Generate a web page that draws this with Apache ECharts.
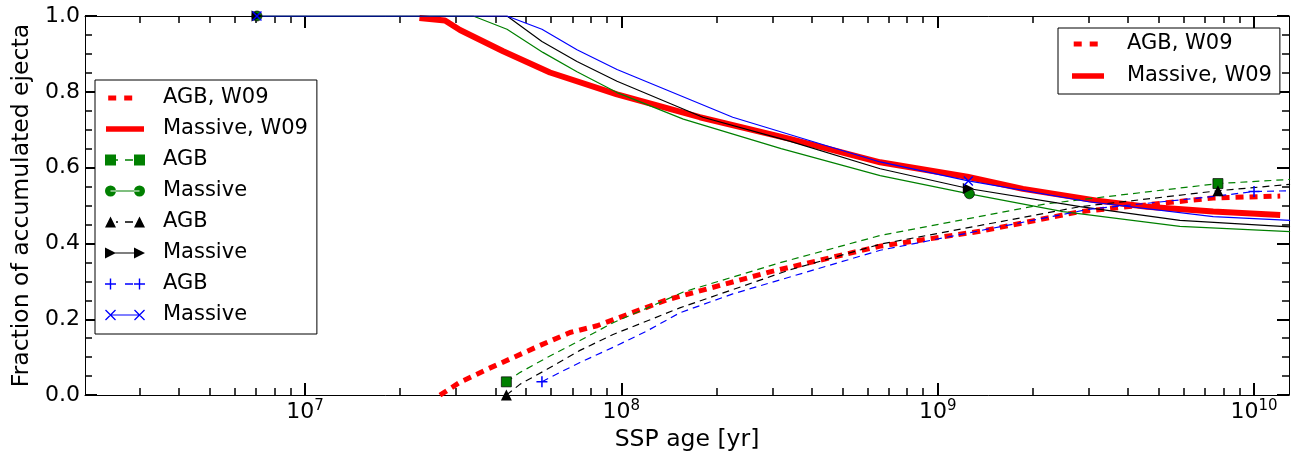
<!DOCTYPE html>
<html><head><meta charset="utf-8">
<script src="https://cdn.jsdelivr.net/npm/echarts@6/dist/echarts.min.js"></script>
<style>html,body{margin:0;padding:0;background:#fff}#c{width:1294px;height:457px}</style>
</head><body><div id="c"></div><script>
// ---------- data ----------
const X_MIN = 2.016e6, X_MAX = 1.29e10;
const xMajorTicks = [1e7, 1e8, 1e9, 1e10];
const xMinorTicks = [3e6,4e6,5e6,6e6,7e6,8e6,9e6, 2e7,3e7,4e7,5e7,6e7,7e7,8e7,9e7,
  2e8,3e8,4e8,5e8,6e8,7e8,8e8,9e8, 2e9,3e9,4e9,5e9,6e9,7e9,8e9,9e9];
const yTicks = [0.0, 0.2, 0.4, 0.6, 0.8, 1.0];

const w09AgbX = [2.67e7, 3.09e7, 3.76e7, 4.55e7, 5.53e7, 6.88e7, 8.38e7, 1.04e8, 1.39e8, 2.95e8, 6.58e8, 1.36e9, 2.82e9, 7.43e9, 1.21e10];
const w09AgbY = [0.0, 0.034, 0.068, 0.099, 0.131, 0.165, 0.183, 0.212, 0.251, 0.325, 0.393, 0.432, 0.484, 0.52, 0.525];
const w09MassX = [2.3e7, 2.77e7, 3.09e7, 4.23e7, 5.95e7, 9.69e7, 1.77e8, 3.41e8, 6.58e8, 1.24e9, 1.86e9, 3.19e9, 4.59e9, 7.43e9, 1.21e10];
const w09MassY = [0.995, 0.988, 0.963, 0.907, 0.851, 0.793, 0.733, 0.676, 0.614, 0.576, 0.544, 0.513, 0.497, 0.484, 0.475];

const greenAgbX = [4.33e7, 4.79e7, 5.82e7, 7.40e7, 9.42e7, 1.21e8, 1.57e8, 3.2e8, 6.58e8, 2.22e9, 7.69e9, 1.3e10];
const greenAgbY = [0.035, 0.060, 0.099, 0.144, 0.191, 0.230, 0.272, 0.350, 0.421, 0.505, 0.558, 0.569];
const greenMassX = [7.05e6, 3.40e7, 4.35e7, 5.65e7, 7.24e7, 9.69e7, 1.57e8, 3.2e8, 6.58e8, 1.26e9, 2.49e9, 5.83e9, 1.3e10];
const greenMassY = [1.0, 1.0, 0.965, 0.904, 0.853, 0.798, 0.728, 0.650, 0.579, 0.531, 0.484, 0.445, 0.431];

const blackAgbX = [4.33e7, 4.79e7, 5.82e7, 7.40e7, 9.42e7, 1.21e8, 1.53e8, 3.4e8, 6.58e8, 2.82e9, 7.69e9, 1.3e10];
const blackAgbY = [0.0, 0.029, 0.068, 0.118, 0.160, 0.196, 0.230, 0.330, 0.398, 0.497, 0.539, 0.556];
const blackMassX = [7.05e6, 4.35e7, 5.61e7, 7.24e7, 9.69e7, 1.81e8, 3.4e8, 6.58e8, 1.25e9, 2.82e9, 5.83e9, 1.3e10];
const blackMassY = [1.0, 1.0, 0.933, 0.880, 0.828, 0.733, 0.670, 0.597, 0.545, 0.497, 0.461, 0.444];

const blueAgbX = [5.61e7, 6.40e7, 7.40e7, 9.42e7, 1.21e8, 1.53e8, 2.25e8, 6.58e8, 3.0e9, 7.43e9, 1.0e10, 1.3e10];
const blueAgbY = [0.035, 0.060, 0.086, 0.126, 0.170, 0.217, 0.267, 0.382, 0.490, 0.524, 0.537, 0.539];
const blueMassX = [7.05e6, 4.35e7, 5.61e7, 7.24e7, 9.69e7, 2.25e8, 6.58e8, 1.25e9, 3.0e9, 7.43e9, 1.3e10];
const blueMassY = [1.0, 1.0, 0.965, 0.911, 0.859, 0.733, 0.615, 0.565, 0.510, 0.471, 0.461];

// marker positions (indices into the data above)
const greenAgbMarks = [0, 10], greenMassMarks = [0, 9];
const blackAgbMarks = [0, 10], blackMassMarks = [0, 8];
const blueAgbMarks = [0, 10], blueMassMarks = [0, 7];

// ---------- shapes ----------
const FONT = 'DejaVu Sans';
function rect(x0,y0,x1,y1){return `M${x0} ${y0}L${x1} ${y0}L${x1} ${y1}L${x0} ${y1}Z`;}
function circ(cx,cy,r){return `M${cx-r} ${cy}A${r} ${r} 0 1 0 ${cx+r} ${cy}A${r} ${r} 0 1 0 ${cx-r} ${cy}Z`;}
function triUp(cx,cy,s){return `M${cx} ${cy-s/2}L${cx+s/2} ${cy+s/2}L${cx-s/2} ${cy+s/2}Z`;}
function triRight(cx,cy,s){return `M${cx-s/2} ${cy-s/2}L${cx+s/2} ${cy}L${cx-s/2} ${cy+s/2}Z`;}
function plus(cx,cy,s,t){return rect(cx-s/2,cy-t/2,cx+s/2,cy+t/2)+rect(cx-t/2,cy-s/2,cx+t/2,cy+s/2);}
function cross(cx,cy,s,t){
  const x0=cx-s/2,x1=cx+s/2,y0=cy-s/2,y1=cy+s/2,d=t/(2*Math.SQRT2);
  return `M${x0+d} ${y0-d}L${x1+d} ${y1-d}L${x1-d} ${y1+d}L${x0-d} ${y0+d}Z`+
         `M${x0-d} ${y1-d}L${x1-d} ${y0-d}L${x1+d} ${y0+d}L${x0+d} ${y1+d}Z`;
}
function anchor(W,H){return `M0 0L0.01 0L0.01 0.01Z M${W-0.01} ${H-0.01}L${W} ${H-0.01}L${W} ${H}Z`;}
const SYM = {
  plus: 'path://' + plus(5,5,10,1.4),
  cross: 'path://' + cross(5,5,9,1.4),
  rtri: 'path://' + triRight(5,5,10)
};
// legend handle icons (W x H box, handle drawn from 0..hw)
function icon(kind, W, H, hw){
  const c = H/2; let p = anchor(W,H);
  const m1 = 5.5, m2 = hw-5.5, mid0 = hw*0.5, dash = rect(mid0, c-0.7, mid0+8, c+0.7);
  if (kind==='w09agb') p += rect(hw*0.08, c-2.5, hw*0.08+8, c+2.5) + rect(hw*0.08+16, c-2.5, hw*0.08+24, c+2.5);
  else if (kind==='w09mass') p += rect(1, c-2.8, hw-1, c+2.8);
  else if (kind==='sq') p += rect(0,c-5.5,11,c+5.5) + rect(11,c-0.7,13,c+0.7) + dash + rect(hw-11,c-5.5,hw,c+5.5);
  else if (kind==='circ') p += circ(m1,c,5.5) + rect(m1,c-0.6,m2,c+0.6) + circ(m2,c,5.5);
  else if (kind==='tri') p += triUp(m1,c,11) + rect(11,c-0.7,13,c+0.7) + dash + triUp(m2,c,11);
  else if (kind==='rtri') p += triRight(m1,c,11) + rect(m1,c-0.6,m2,c+0.6) + triRight(m2,c,11);
  else if (kind==='plus') p += plus(m1,c,11,1.4) + dash + plus(m2,c,11,1.4);
  else if (kind==='cross') p += cross(m1,c,10,1.3) + rect(m1,c-0.6,m2,c+0.6) + cross(m2,c,10,1.3);
  return 'path://' + p;
}

// ---------- series ----------
const ZW = '\u200b';
const defs = [
  {name:'AGB, W09', x:w09AgbX, y:w09AgbY, color:'#ff0000', width:5, dash:[8,6], marks:[], icon:'w09agb'},
  {name:'Massive, W09', x:w09MassX, y:w09MassY, color:'#ff0000', width:6, dash:'solid', marks:[], icon:'w09mass'},
  {name:'AGB', x:greenAgbX, y:greenAgbY, color:'#008000', width:1.2, dash:[7,5], marks:greenAgbMarks, sym:'rect', size:10, edge:true, icon:'sq'},
  {name:'Massive', x:greenMassX, y:greenMassY, color:'#008000', width:1.2, dash:'solid', marks:greenMassMarks, sym:'circle', size:10, edge:true, icon:'circ'},
  {name:'AGB'+ZW, x:blackAgbX, y:blackAgbY, color:'#000000', width:1.2, dash:[7,5], marks:blackAgbMarks, sym:'triangle', size:11, icon:'tri'},
  {name:'Massive'+ZW, x:blackMassX, y:blackMassY, color:'#000000', width:1.2, dash:'solid', marks:blackMassMarks, sym:SYM.rtri, size:11, icon:'rtri'},
  {name:'AGB'+ZW+ZW, x:blueAgbX, y:blueAgbY, color:'#0000ff', width:1.2, dash:[7,5], marks:blueAgbMarks, sym:SYM.plus, size:11, icon:'plus'},
  {name:'Massive'+ZW+ZW, x:blueMassX, y:blueMassY, color:'#0000ff', width:1.2, dash:'solid', marks:blueMassMarks, sym:SYM.cross, size:10, icon:'cross'}
];
const series = defs.map(d => ({
  type:'line', name:d.name, xAxisIndex:0, yAxisIndex:0,
  symbol:'none', showSymbol:true, clip:true,
  itemStyle:{color:d.color},
  lineStyle:{color:d.color, width:d.width, type:d.dash, cap:'butt'},
  data: d.x.map((xv,i) => d.marks.indexOf(i) >= 0
    ? {value:[xv, d.y[i]], symbol:d.sym, symbolSize:d.size,
       itemStyle:{color:d.color, borderColor:d.edge ? '#000' : d.color, borderWidth:d.edge ? 0.7 : 0}}
    : [xv, d.y[i]])
}));

function legendData(list, W, H, hw){
  return list.map(i => ({name:defs[i].name, icon:icon(defs[i].icon, W, H, hw)}));
}
const legendText = {fontFamily:FONT, fontSize:21, color:'#000', lineHeight:22};
const stripZW = n => n.replace(/\u200b/g,'');

// ---------- axes ----------
const xBase = {type:'log', logBase:10, min:X_MIN, max:X_MAX, splitLine:{show:false}};
function xAx(pos, major, withLine){
  return Object.assign({}, xBase, {
    position:pos,
    axisLine:{show:withLine, onZero:false, lineStyle:{color:'#000', width:1}},
    axisTick:{show:true, inside:true, length: major ? 12 : 7, customValues: major ? xMajorTicks : xMinorTicks,
      lineStyle:{color:'#000', width: major ? 2 : 1.5}},
    axisLabel:{show:false}
  });
}
const xMain = xAx('bottom', true, true);
xMain.axisLabel = {show:true, customValues:xMajorTicks, margin:4, color:'#000',
  formatter: v => '{b|10}{s|' + Math.round(Math.log10(v)) + '}',
  rich:{b:{fontFamily:FONT, fontSize:22, lineHeight:26, color:'#000'},
        s:{fontFamily:FONT, fontSize:15, lineHeight:15, verticalAlign:'top', color:'#000'}}};
xMain.name = 'SSP age [yr]';
xMain.nameLocation = 'middle';
xMain.nameGap = 27;
xMain.nameTextStyle = {fontFamily:FONT, fontSize:23.5, color:'#000'};

function yAx(pos, withLabels){
  const a = {type:'value', min:yTicks[0], max:yTicks[yTicks.length-1], interval:0.2, position:pos,
    splitLine:{show:false},
    axisLine:{show:true, onZero:false, lineStyle:{color:'#000', width:1}},
    axisTick:{show:true, inside:true, length:12, lineStyle:{color:'#000', width:2}},
    minorTick:{show:true, splitNumber:4, length:7, lineStyle:{color:'#000', width:1.5}},
    axisLabel:{show:withLabels, margin:5, color:'#000', fontFamily:FONT, fontSize:22,
      formatter: v => v.toFixed(1)}
  };
  if (withLabels){
    a.name = 'Fraction of accumulated ejecta';
    a.nameLocation = 'middle';
    a.nameGap = 50;
    a.nameTextStyle = {fontFamily:FONT, fontSize:23.5, color:'#000'};
  }
  return a;
}

const option = {
  animation:false,
  textStyle:{fontFamily:FONT},
  grid:{left:85, right:5, top:16, bottom:59, containLabel:false},
  xAxis:[xMain, xAx('bottom', false, false), xAx('top', true, true), xAx('top', false, false)],
  yAxis:[yAx('left', true), yAx('right', false)],
  legend:[
    {orient:'vertical', left:95, top:80, itemWidth:53, itemHeight:12, itemGap:9,
     padding:[7,9,8,10], backgroundColor:'#fff', borderColor:'#000', borderWidth:1, borderRadius:0,
     selectedMode:false, itemStyle:{borderWidth:0}, textStyle:legendText, formatter:stripZW,
     data:legendData([0,1,2,3,4,5,6,7], 53, 12, 40)},
    {orient:'vertical', left:1058, top:28, itemWidth:51, itemHeight:12, itemGap:10,
     padding:[5,8,7,13], backgroundColor:'#fff', borderColor:'#000', borderWidth:1, borderRadius:0,
     selectedMode:false, itemStyle:{borderWidth:0}, textStyle:legendText, formatter:stripZW,
     data:legendData([0,1], 51, 12, 34)}
  ],
  series: series
};
const chart = echarts.init(document.getElementById('c'), null, {renderer:'canvas'});
chart.setOption(option);
</script></body></html>
